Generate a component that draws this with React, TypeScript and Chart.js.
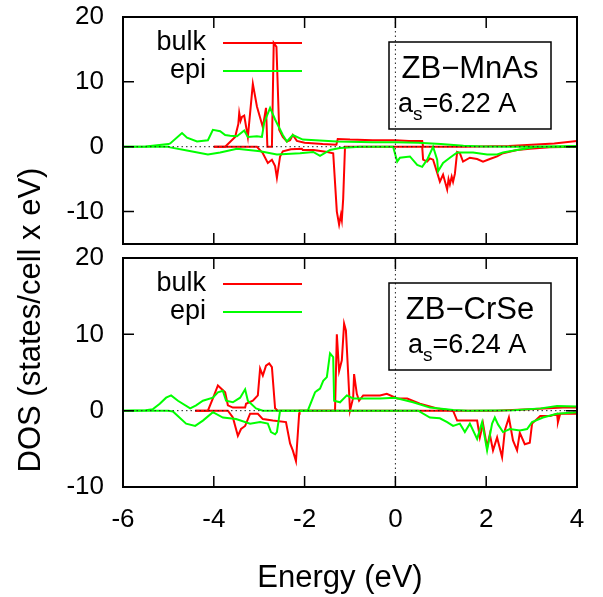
import React, { useEffect, useRef } from "react";
import { Chart, registerables } from "chart.js";

Chart.register(...registerables);

const FONT = "'Liberation Sans', Arial, Helvetica, sans-serif";
const RED = "#ff0000";
const GREEN = "#00ff00";

// ---- axis ticks / labels ----
const energyTicks = [-6, -4, -2, 0, 2, 4];
const dosTicks = [-10, 0, 10, 20];
const legendLabels = ["bulk", "epi"];
const xTitle = "Energy (eV)";
const yTitle = "DOS (states/cell x eV)";

// ---- panel 1: ZB-MnAs  [energy (eV), DOS] ----
const mnasBulkUp: [number, number][] = [
  [-4.0, 0], [-3.75, 0], [-3.53, 1.5], [-3.46, 3.5], [-3.44, 5.2], [-3.41, 4.0], [-3.38, 4.6],
  [-3.33, 4.8], [-3.25, 1.5], [-3.14, 9.7], [-3.05, 6.2], [-2.92, 3.0], [-2.85, 6.0], [-2.82, 0],
  [-2.72, 0], [-2.68, 16], [-2.62, 15.4], [-2.56, 2.6], [-2.48, 1.5], [-2.39, 0.8], [-2.32, 1.0],
  [-2.26, 1.8], [-2.17, 0.9], [-2.0, 0.6], [-1.6, 0.4], [-1.3, 0.3], [-1.27, 1.2], [-1.0, 1.1],
  [-0.5, 1.0], [0, 1.0], [0.3, 0.9], [0.59, 0.9], [0.61, 0], [1.5, 0], [2.5, 0.1], [3.0, 0.3],
  [3.5, 0.5], [4.0, 0.9],
];
const mnasBulkDn: [number, number][] = [
  [-4.0, 0], [-3.05, 0], [-2.92, -1.0], [-2.81, -2.5], [-2.72, -2.0], [-2.65, -3.0], [-2.61, -4.8],
  [-2.54, -1.5], [-2.48, -0.7], [-2.3, -0.4], [-2.06, -0.3], [-2.04, -0.5], [-1.8, -0.5],
  [-1.5, -0.8], [-1.37, -1.0], [-1.29, -10], [-1.24, -12], [-1.2, -10.5], [-1.18, -11.3],
  [-1.15, -8], [-1.11, 0], [0.59, 0], [0.61, -2.0], [0.7, -2.3], [0.76, -1.8], [0.83, -2.0],
  [0.92, -4.0], [0.98, -5.4], [1.05, -4.3], [1.14, -6.6], [1.17, -5.0], [1.2, -5.8], [1.24, -4.6],
  [1.27, -5.4], [1.31, -4.2], [1.36, -0.8], [1.42, -1.0], [1.49, -2.3], [1.64, -1.7], [1.8, -1.9],
  [1.93, -2.3], [2.08, -1.9], [2.24, -1.5], [2.37, -1.0], [2.68, -0.5], [2.96, -0.3], [3.4, -0.1],
  [4.0, 0],
];
const mnasEpiUp: [number, number][] = [
  [-6, 0], [-5.5, 0.05], [-5.0, 0.4], [-4.96, 0.5], [-4.7, 2.1], [-4.59, 1.4], [-4.37, 0.8],
  [-4.13, 1.0], [-4.02, 2.6], [-3.86, 2.4], [-3.75, 1.8], [-3.64, 1.7], [-3.49, 1.6], [-3.33, 2.5],
  [-3.25, 1.5], [-3.05, 1.6], [-2.94, 1.5], [-2.89, 3.7], [-2.76, 6.0], [-2.65, 4.2], [-2.48, 1.8],
  [-2.39, 0.8], [-2.26, 1.8], [-2.04, 1.1], [-1.29, 0.8], [-0.5, 0.7], [0, 0.7], [0.5, 0.6],
  [1.0, 0.4], [1.5, 0.15], [1.93, 0.05], [2.5, 0], [3.0, 0], [4.0, 0.1],
];
const mnasEpiDn: [number, number][] = [
  [-6, 0], [-5.0, 0], [-4.96, -0.1], [-4.59, -0.6], [-4.13, -1.2], [-3.86, -0.9], [-3.49, -0.3],
  [-2.98, -0.7], [-2.61, -1.2], [-2.1, -1.0], [-1.81, -0.8], [-1.66, -1.4], [-1.44, -0.5],
  [-1.22, -0.2], [-0.78, 0], [-0.05, 0], [0.04, -2.3], [0.1, -1.7], [0.32, -1.5], [0.48, -2.8],
  [0.59, -3.1], [0.7, -2.0], [0.83, 0], [0.92, -2.0], [0.94, -3.8], [1.05, -2.5], [1.2, -1.7],
  [1.36, -0.9], [1.71, -0.9], [2.02, -1.2], [2.24, -1.2], [2.37, -0.9], [2.68, -0.5], [3.12, 0],
  [4, 0],
];

// ---- panel 2: ZB-CrSe ----
const crseBulkUp: [number, number][] = [
  [-4.41, 0], [-4.13, 0], [-4.02, 1.6], [-3.91, 3.3], [-3.84, 2.9], [-3.75, 2.4], [-3.69, 0.7],
  [-3.58, 0.4], [-3.31, 0.4], [-3.29, 0.9], [-3.14, 1.3], [-3.03, 2.0], [-2.98, 5.5], [-2.92, 4.6],
  [-2.85, 5.9], [-2.78, 6.2], [-2.72, 5.7], [-2.65, 0.3], [-2.59, 0], [-1.33, 0], [-1.29, 10],
  [-1.24, 5.2], [-1.18, 6.6], [-1.13, 11.4], [-1.09, 10.5], [-1.04, 4.8], [-1.0, 0], [-0.93, 1.7],
  [-0.91, 4.8], [-0.85, 2.2], [-0.8, 1.3], [-0.71, 2.0], [-0.56, 2.0], [-0.34, 2.0], [-0.19, 2.2],
  [0.04, 1.6], [0.26, 1.6], [0.54, 0.9], [0.92, 0.3], [1.27, 0], [2.2, 0], [2.96, 0.2],
  [3.69, 0.4], [4, 0.4],
];
const crseBulkDn: [number, number][] = [
  [-4.41, 0], [-3.69, 0], [-3.58, -0.9], [-3.47, -3.3], [-3.4, -2.4], [-3.31, -2.0], [-3.2, -0.4],
  [-3.03, -0.4], [-2.92, -1.1], [-2.7, -1.3], [-2.41, -1.5], [-2.32, -4.3], [-2.26, -5.2],
  [-2.19, -6.6], [-2.12, -0.4], [-2.11, 0], [1.27, 0], [1.36, -1.3], [1.8, -1.3], [1.86, -3.5],
  [1.93, -1.7], [2.02, -4.8], [2.08, -3.1], [2.15, -5.2], [2.24, -3.5], [2.35, -6.1], [2.41, -2.6],
  [2.5, -0.9], [2.59, -3.9], [2.68, -5.2], [2.74, -2.9], [2.85, -4.4], [2.96, -4.2], [3.01, -1.7],
  [3.19, -0.7], [3.41, -0.7], [3.56, -0.4], [3.58, -1.5], [3.63, -0.4], [4, -0.4],
];
const crseEpiUp: [number, number][] = [
  [-6, 0], [-5.5, 0.05], [-5.34, 0.2], [-5.19, 0.9], [-5.05, 1.7], [-4.94, 2.0], [-4.79, 1.3],
  [-4.52, 0.3], [-4.39, 0.7], [-4.24, 1.3], [-4.02, 1.7], [-3.91, 2.4], [-3.8, 2.6], [-3.73, 1.3],
  [-3.58, 1.1], [-3.42, 1.7], [-3.31, 2.8], [-3.25, 1.3], [-3.07, 0.3], [-2.92, 0], [-1.93, 0],
  [-1.77, 2.4], [-1.73, 2.6], [-1.66, 2.9], [-1.59, 3.9], [-1.51, 4.4], [-1.44, 7.5], [-1.37, 7.0],
  [-1.35, 1.3], [-1.22, 1.1], [-1.07, 2.0], [-0.93, 1.6], [-0.71, 1.6], [-0.34, 1.6], [-0.01, 1.7],
  [0.39, 1.1], [0.76, 0.4], [1.27, 0.1], [1.6, 0], [2.6, 0.05], [3.2, 0.3], [3.56, 0.6], [4, 0.55],
];
const crseEpiDn: [number, number][] = [
  [-6, 0], [-5.0, 0], [-4.9, -0.1], [-4.61, -1.7], [-4.41, -2.0], [-4.24, -1.3], [-4.02, -0.2],
  [-3.8, -0.9], [-3.51, -1.1], [-3.2, -1.7], [-2.98, -1.5], [-2.81, -1.7], [-2.74, -2.8],
  [-2.65, -3.1], [-2.61, -2.8], [-2.54, 0], [0.5, 0], [0.76, -0.9], [0.98, -1.0], [1.14, -1.5],
  [1.27, -2.0], [1.42, -1.7], [1.53, -2.8], [1.64, -1.7], [1.8, -3.7], [1.91, -1.5], [2.02, -5.2],
  [2.13, -1.7], [2.19, -0.9], [2.26, -1.8], [2.37, -2.8], [2.52, -2.4], [2.74, -2.6], [2.9, -2.4],
  [3.01, -1.5], [3.25, -0.9], [3.56, -0.4], [4, -0.2],
];

const toXY = (a: [number, number][]) => a.map(([x, y]) => ({ x, y }));

type PanelProps = {
  top: number;
  height: number;
  padTop: number;
  padBottom: number;
  yMin: number;
  showX: boolean;
  series: [number, number][][]; // bulkUp, bulkDn, epiUp, epiDn
  material: string;
  lattice: string;
  line2Dx: number;
};

function Panel(p: PanelProps) {
  const ref = useRef<HTMLCanvasElement>(null);
  useEffect(() => {
    const canvas = ref.current!;
    const [bUp, bDn, eUp, eDn] = p.series;
    const decor = {
      id: "decor",
      afterDatasetsDraw(chart: any) {
        const { ctx, chartArea: a, scales } = chart;
        const xs = scales.x;
        const ys = scales.y;
        ctx.save();
        // frame
        ctx.strokeStyle = "#000";
        ctx.lineWidth = 2;
        ctx.strokeRect(a.left, a.top, a.right - a.left, a.bottom - a.top);
        // inward ticks
        const tl = 11;
        ctx.lineWidth = 1.5;
        ctx.beginPath();
        for (const v of energyTicks) {
          const px = xs.getPixelForValue(v);
          ctx.moveTo(px, a.bottom);
          ctx.lineTo(px, a.bottom - tl);
          ctx.moveTo(px, a.top);
          ctx.lineTo(px, a.top + tl);
        }
        for (const v of dosTicks) {
          const py = ys.getPixelForValue(v);
          ctx.moveTo(a.left, py);
          ctx.lineTo(a.left + tl, py);
          ctx.moveTo(a.right, py);
          ctx.lineTo(a.right - tl, py);
        }
        ctx.stroke();
        // legend
        const cols = [RED, GREEN];
        ctx.font = `27px ${FONT}`;
        ctx.textAlign = "right";
        ctx.textBaseline = "middle";
        ctx.fillStyle = "#000";
        legendLabels.forEach((lab, i) => {
          const y = a.top + 26 + i * 28;
          ctx.fillText(lab, a.left + 83, y);
          ctx.strokeStyle = cols[i];
          ctx.lineWidth = 2;
          ctx.beginPath();
          ctx.moveTo(a.left + 100, y);
          ctx.lineTo(a.left + 179, y);
          ctx.stroke();
        });
        // annotation box
        const bx = a.left + 266;
        const by = a.top + 25;
        ctx.strokeStyle = "#000";
        ctx.lineWidth = 1.5;
        ctx.strokeRect(bx, by, 162, 87);
        ctx.textBaseline = "alphabetic";
        ctx.textAlign = "center";
        ctx.font = `31px ${FONT}`;
        ctx.fillText(p.material, bx + 81, a.top + 61);
        ctx.textAlign = "left";
        let tx = bx + p.line2Dx;
        const base = a.top + 95;
        ctx.font = `27px ${FONT}`;
        ctx.fillText("a", tx, base);
        tx += ctx.measureText("a").width;
        ctx.font = `19px ${FONT}`;
        ctx.fillText("s", tx, base + 8);
        tx += ctx.measureText("s").width;
        ctx.font = `27px ${FONT}`;
        ctx.fillText("=" + p.lattice, tx, base);
        ctx.restore();
      },
    };

    const dotted = {
      borderColor: "#222",
      borderWidth: 1,
      borderDash: [1.5, 3],
      pointRadius: 0,
      fill: false,
    };
    const curve = (data: [number, number][], color: string) => ({
      data: toXY(data),
      borderColor: color,
      borderWidth: 2,
      pointRadius: 0,
      tension: 0,
      fill: false,
    });

    const chart = new Chart(canvas, {
      type: "line",
      data: {
        datasets: [
          { ...dotted, data: toXY([[-6, 0], [4, 0]]) },
          { ...dotted, data: toXY([[0, p.yMin], [0, 20]]) },
          curve(eUp, GREEN),
          curve(eDn, GREEN),
          curve(bUp, RED),
          curve(bDn, RED),
        ],
      } as any,
      options: {
        animation: false,
        responsive: false,
        maintainAspectRatio: false,
        devicePixelRatio: 1,
        events: [],
        layout: { padding: { left: 0, top: p.padTop, right: 26, bottom: p.padBottom } },
        plugins: { legend: { display: false }, tooltip: { enabled: false }, title: { display: false } },
        scales: {
          x: {
            type: "linear",
            min: -6,
            max: 4,
            display: p.showX,
            afterBuildTicks: (s: any) => {
              s.ticks = energyTicks.map((v) => ({ value: v }));
            },
            afterFit: (s: any) => {
              s.height = p.showX ? 110 : 0;
              s.paddingLeft = 0;
              s.paddingRight = 0;
            },
            grid: { display: false, drawTicks: false },
            border: { display: false },
            ticks: {
              color: "#000",
              font: { size: 26, family: FONT },
              padding: 17,
              maxRotation: 0,
              autoSkip: false,
            },
          },
          y: {
            type: "linear",
            min: p.yMin,
            max: 20,
            afterBuildTicks: (s: any) => {
              s.ticks = dosTicks.map((v) => ({ value: v }));
            },
            afterFit: (s: any) => {
              s.width = 123;
              s.paddingTop = 0;
              s.paddingBottom = 0;
            },
            grid: { display: false, drawTicks: false },
            border: { display: false },
            ticks: {
              color: "#000",
              font: { size: 26, family: FONT },
              padding: 19,
              autoSkip: false,
            },
          },
        },
      } as any,
      plugins: [decor],
    });
    return () => chart.destroy();
  }, []);
  return (
    <canvas
      ref={ref}
      width={603}
      height={p.height}
      style={{ position: "absolute", left: 0, top: p.top, width: 603, height: p.height, display: "block" }}
    />
  );
}

export default function App() {
  return (
    <div
      style={{
        position: "absolute",
        left: 0,
        top: 0,
        width: 603,
        height: 597,
        overflow: "hidden",
        background: "#fff",
        fontFamily: FONT,
      }}
    >
      <Panel
        top={0}
        height={250}
        padTop={17}
        padBottom={6}
        yMin={-15}
        showX={false}
        series={[mnasBulkUp, mnasBulkDn, mnasEpiUp, mnasEpiDn]}
        material={"ZB\u2212MnAs"}
        lattice="6.22 A"
        line2Dx={9}
      />
      <Panel
        top={235}
        height={362}
        padTop={23}
        padBottom={0}
        yMin={-10}
        showX={true}
        series={[crseBulkUp, crseBulkDn, crseEpiUp, crseEpiDn]}
        material={"ZB\u2212CrSe"}
        lattice="6.24 A"
        line2Dx={19}
      />
      <div
        style={{
          position: "absolute",
          left: 30 - 200,
          top: 320 - 20,
          width: 400,
          height: 40,
          lineHeight: "40px",
          textAlign: "center",
          fontSize: 31,
          color: "#000",
          transform: "rotate(-90deg)",
          whiteSpace: "nowrap",
        }}
      >
        {yTitle}
      </div>
      <div
        style={{
          position: "absolute",
          left: 340 - 150,
          top: 577 - 20,
          width: 300,
          height: 40,
          lineHeight: "40px",
          textAlign: "center",
          fontSize: 31,
          color: "#000",
          whiteSpace: "nowrap",
        }}
      >
        {xTitle}
      </div>
    </div>
  );
}
